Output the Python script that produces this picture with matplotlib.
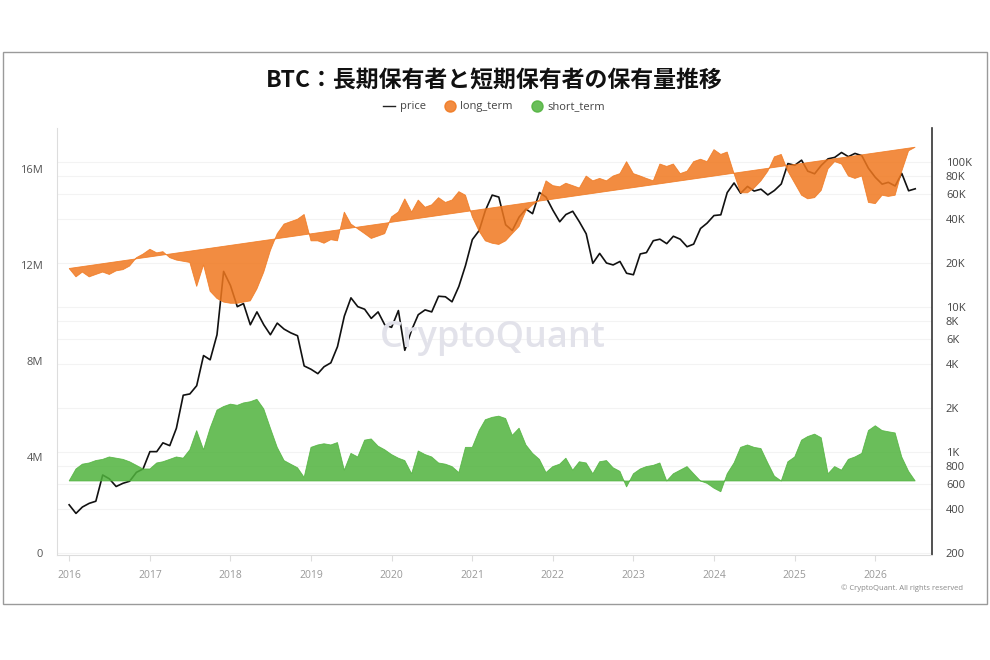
import pandas as pd
import matplotlib
matplotlib.use("Agg")
import matplotlib.pyplot as plt
import matplotlib.dates as mdates
from matplotlib.lines import Line2D
from matplotlib.patches import Rectangle
from matplotlib.ticker import FixedLocator, NullLocator, FuncFormatter

plt.rcParams['font.family'] = ['Open Sans', 'Noto Sans CJK JP', 'DejaVu Sans']

# monthly samples, 2016-01 .. 2026-07
dates = pd.date_range("2016-01-01", periods=127, freq="MS")

price = [
    430, 375, 415, 440, 455, 690, 650, 575, 605, 625, 720, 760,
    1000, 1000, 1150, 1100, 1450, 2450, 2500, 2850, 4600, 4300, 6400, 17500,
    14000, 10000, 10500, 7500, 9200, 7500, 6400, 7700, 7000, 6600, 6300, 3900,
    3700, 3450, 3850, 4100, 5300, 8600, 11500, 10000, 9600, 8300, 9200, 7500,
    7200, 9400, 5000, 6900, 8800, 9500, 9200, 11800, 11700, 10800, 13800, 19200,
    29000, 33500, 46000, 58800, 57000, 36700, 33500, 41500, 47100, 43800, 61300, 57000,
    46300, 38500, 43200, 45500, 38500, 31800, 19900, 23300, 20000, 19400, 20500, 17000,
    16600, 23100, 23600, 28500, 29200, 27200, 30600, 29200, 25900, 27000, 34600, 37700,
    42500, 43000, 61200, 71300, 60600, 67500, 62700, 64600, 59000, 63300, 70200, 97000,
    94400, 102400, 86000, 82500, 94200, 104600, 107000, 115700, 108300, 114000, 110000, 90000,
    78000, 70000, 72000, 68000, 83000, 63000, 65000,
]

long_term = [
    11.85, 11.5, 11.7, 11.5, 11.6, 11.7, 11.6, 11.75, 11.8, 11.95, 12.3, 12.45,
    12.65, 12.5, 12.55, 12.3, 12.2, 12.15, 12.1, 11.1, 12.0, 10.9, 10.6, 10.45,
    10.4, 10.4, 10.45, 10.5, 11.0, 11.7, 12.6, 13.3, 13.7, 13.8, 13.9, 14.1,
    13.0, 13.0, 12.9, 13.05, 13.0, 14.2, 13.7, 13.5, 13.3, 13.1, 13.2, 13.3,
    14.0, 14.2, 14.75, 14.2, 14.7, 14.4, 14.5, 14.8, 14.6, 14.7, 15.05, 14.9,
    14.0, 13.4, 13.0, 12.9, 12.85, 13.0, 13.3, 13.6, 14.25, 14.5, 14.7, 15.5,
    15.3, 15.25, 15.4, 15.3, 15.2, 15.7, 15.5, 15.6, 15.5, 15.7, 15.8, 16.3,
    15.8, 15.7, 15.6, 15.5, 16.2, 16.1, 16.2, 15.8, 15.9, 16.3, 16.4, 16.3,
    16.8, 16.6, 16.7, 15.8, 15.0, 15.0, 15.2, 15.5, 15.9, 16.5, 16.6, 15.9,
    15.4, 14.9, 14.75, 14.8, 15.1, 16.0, 16.3, 16.2, 15.7, 15.6, 15.7, 14.6,
    14.55, 14.9, 14.85, 14.9, 15.9, 16.75, 16.9,
]

short_term = [
    3.0, 3.5, 3.7, 3.75, 3.85, 3.9, 4.0, 3.95, 3.9, 3.8, 3.65, 3.5,
    3.5, 3.75, 3.8, 3.9, 4.0, 3.95, 4.3, 5.1, 4.3, 5.2, 5.95, 6.1,
    6.2, 6.15, 6.25, 6.3, 6.4, 6.0, 5.2, 4.4, 3.85, 3.7, 3.55, 3.15,
    4.4, 4.5, 4.55, 4.5, 4.6, 3.45, 4.15, 4.0, 4.7, 4.75, 4.45, 4.3,
    4.1, 3.95, 3.85, 3.3, 4.25, 4.1, 4.0, 3.75, 3.7, 3.6, 3.35, 4.4,
    4.4, 5.1, 5.55, 5.65, 5.7, 5.6, 4.9, 5.2, 4.5, 4.15, 3.9, 3.35,
    3.6, 3.7, 3.95, 3.45, 3.8, 3.75, 3.3, 3.8, 3.85, 3.55, 3.4, 2.75,
    3.3, 3.5, 3.6, 3.65, 3.75, 3.0, 3.3, 3.45, 3.6, 3.3, 3.0, 2.9,
    2.7, 2.55, 3.3, 3.75, 4.4, 4.5, 4.4, 4.35, 3.75, 3.2, 3.0, 3.8,
    4.0, 4.7, 4.85, 4.95, 4.8, 3.3, 3.6, 3.45, 3.9, 4.0, 4.15, 5.1,
    5.3, 5.1, 5.05, 5.0, 4.0, 3.4, 3.0,
]

price_ticks = [200, 400, 600, 800, 1000, 2000, 4000, 6000, 8000, 10000,
               20000, 40000, 60000, 80000, 100000]

ORANGE = "#F0781F"
GREEN = "#50B33D"

fig = plt.figure(figsize=(9.9, 6.6), dpi=100)
fig.patches.append(Rectangle((3 / 990, 1 - 604 / 660), 984 / 990, 552 / 660,
                             transform=fig.transFigure, fill=False,
                             edgecolor="#9a9a9a", lw=1))

ax = fig.add_axes([57 / 990, 1 - 555 / 660, 875 / 990, 427 / 660])
ax2 = ax.twinx()
ax.set_zorder(ax2.get_zorder() + 1)
ax.patch.set_visible(False)

# price on log scale (right)
ax2.plot(dates, price, color="#111111", lw=1.2)
ax2.set_yscale("log")
ax2.set_ylim(193.7, 170700)
ax2.yaxis.set_major_locator(FixedLocator(price_ticks))
ax2.yaxis.set_minor_locator(NullLocator())
ax2.yaxis.set_major_formatter(FuncFormatter(
    lambda v, p: f"{int(v / 1000)}K" if v >= 1000 else f"{int(v)}"))
ax2.grid(axis="y", color="#f3f3f3", lw=0.8)
ax2.tick_params(axis="y", length=0, labelsize=8, labelcolor="#444444", pad=10)
for s in ["top", "left", "bottom"]:
    ax2.spines[s].set_visible(False)
ax2.spines["right"].set_color("#333333")
ax2.spines["right"].set_linewidth(1.2)

# holdings (left) - closed polygons, as in the original
lt = [v * 1e6 for v in long_term]
st = [v * 1e6 for v in short_term]
ax.fill(dates, st, facecolor=GREEN, edgecolor=GREEN, alpha=0.85, lw=0.6)
ax.fill(dates, lt, facecolor=ORANGE, edgecolor=ORANGE, alpha=0.85, lw=0.6)
ax.set_ylim(-0.083e6, 17.7e6)
ax.set_yticks([0, 4e6, 8e6, 12e6, 16e6])
ax.set_yticklabels(["0", "4M", "8M", "12M", "16M"])
ax.tick_params(axis="y", length=0, labelsize=8, labelcolor="#555555", pad=10)

ax.set_xlim(pd.Timestamp("2015-11-07"), pd.Timestamp("2026-09-15"))
ax.xaxis.set_major_locator(mdates.YearLocator())
ax.xaxis.set_major_formatter(mdates.DateFormatter("%Y"))
ax.tick_params(axis="x", length=4, color="#dddddd", labelsize=7.5,
               labelcolor="#999999", pad=7)
for s in ["top", "right"]:
    ax.spines[s].set_visible(False)
ax.spines["left"].set_color("#dddddd")
ax.spines["bottom"].set_color("#dddddd")

# watermark and credits
fig.text(493 / 990, 1 - 338 / 660, "CryptoQuant", ha="center", va="center",
         fontsize=26, fontweight="semibold", color="#e2e2ea", zorder=0)
fig.text(963 / 990, 1 - 588 / 660, "© CryptoQuant. All rights reserved",
         ha="right", va="center", fontsize=5.5, color="#888888")

fig.text(0.4995, 1 - 80 / 660, "BTC：長期保有者と短期保有者の保有量推移",
         ha="center", va="center", fontsize=16.5, fontweight="bold",
         family=["Noto Sans CJK JP", "DejaVu Sans"], color="#111111")

handles = [
    Line2D([], [], color="#222222", lw=1),
    Line2D([], [], marker="o", ls="", markersize=8, color=ORANGE, alpha=0.85),
    Line2D([], [], marker="o", ls="", markersize=8, color=GREEN, alpha=0.85),
]
fig.legend(handles, ["price", "long_term", "short_term"], loc="center",
           bbox_to_anchor=(0.499, 1 - 107 / 660), ncol=3, frameon=False,
           fontsize=8, handlelength=1.1, handletextpad=0.4, columnspacing=1.6,
           labelcolor="#444444")

fig.savefig("out.png", dpi=100)
